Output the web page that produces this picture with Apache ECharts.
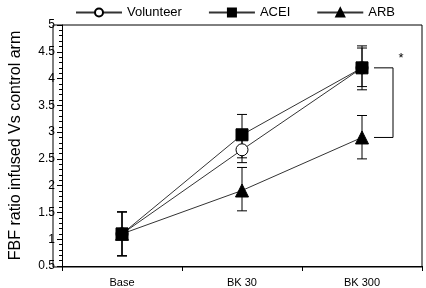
<!DOCTYPE html>
<html style="height: 100%">
<head>
<meta charset="utf-8">
<script src="https://cdn.jsdelivr.net/npm/echarts@6/dist/echarts.min.js"></script>
</head>
<body style="height: 100%; margin: 0; background: #fff">
<div id="container" style="width: 426px; height: 288px"></div>
<script type="text/javascript">
// data
const categories = ['Base', 'BK 30', 'BK 300'];
const volunteer = [1.1, 2.67, 4.2];
const volunteerLo = [0.69, 2.43, 3.85];
const volunteerHi = [1.51, 2.9, 4.57];
const acei = [1.1, 2.95, 4.2];
const aceiLo = [0.69, 2.52, 3.79];
const aceiHi = [1.51, 3.33, 4.61];
const arb = [1.1, 1.91, 2.9];
const arbLo = [0.69, 1.53, 2.5];
const arbHi = [1.51, 2.34, 3.31];
const yTicks = { min: 0.5, max: 5, interval: 0.5 };

let chart = echarts.init(document.getElementById('container'));
const font = 'Liberation Sans, Arial, sans-serif';

function errorSeries(name, mean, lo, hi) {
  return {
    name: name + ' err',
    type: 'custom',
    z: 1,
    silent: true,
    data: mean.map((m, i) => [i, lo[i], hi[i]]),
    renderItem: function (params, api) {
      let top = api.coord([api.value(0), api.value(2)]);
      let bot = api.coord([api.value(0), api.value(1)]);
      let w = 5;
      let st = { stroke: '#000', lineWidth: 1 };
      return {
        type: 'group',
        children: [
          { type: 'line', shape: { x1: top[0], y1: top[1], x2: bot[0], y2: bot[1] }, style: st },
          { type: 'line', shape: { x1: top[0] - w, y1: top[1], x2: top[0] + w, y2: top[1] }, style: st },
          { type: 'line', shape: { x1: bot[0] - w, y1: bot[1], x2: bot[0] + w, y2: bot[1] }, style: st }
        ]
      };
    }
  };
}

function lineSeries(name, data, symbol, size, fill) {
  return {
    name: name,
    type: 'line',
    z: 3,
    data: data,
    symbol: symbol,
    symbolSize: size,
    showAllSymbol: true,
    itemStyle: { color: fill, borderColor: '#000', borderWidth: 1 },
    lineStyle: { color: '#333', width: 1 }
  };
}

chart.setOption({
  animation: false,
  textStyle: { fontFamily: font },
  legend: {
    top: 1,
    left: 70,
    itemWidth: 46,
    itemHeight: 10,
    itemGap: 26,
    textStyle: { fontSize: 13, color: '#000', fontFamily: font },
    data: ['Volunteer', 'ACEI', 'ARB']
  },
  grid: { left: 53, right: 4, top: 25, bottom: 21 },
  xAxis: {
    type: 'category',
    data: categories,
    boundaryGap: true,
    axisLine: { lineStyle: { color: '#000' } },
    axisTick: { show: true, length: 5, lineStyle: { color: '#000' } },
    axisLabel: { color: '#000', fontSize: 11, margin: 11, fontFamily: font },
    splitLine: { show: false }
  },
  yAxis: {
    type: 'value',
    min: yTicks.min,
    max: yTicks.max,
    interval: yTicks.interval,
    name: 'FBF ratio infused Vs control arm',
    nameLocation: 'middle',
    nameRotate: 90,
    nameGap: 38,
    nameTextStyle: { fontSize: 16, color: '#000', fontFamily: font },
    axisLine: { show: true, lineStyle: { color: '#000' } },
    axisTick: { show: true, length: 5, lineStyle: { color: '#000' } },
    minorTick: { show: true, splitNumber: 5, length: 3, lineStyle: { color: '#000' } },
    axisLabel: { color: '#000', fontSize: 12, margin: 7, fontFamily: font },
    splitLine: { show: false }
  },
  graphic: [{
    type: 'rect',
    shape: { x: 53, y: 25, width: 369, height: 242 },
    style: { fill: 'none', stroke: '#000', lineWidth: 1 },
    silent: true
  }],
  series: [
    errorSeries('Volunteer', volunteer, volunteerLo, volunteerHi),
    errorSeries('ACEI', acei, aceiLo, aceiHi),
    errorSeries('ARB', arb, arbLo, arbHi),
    lineSeries('Volunteer', volunteer, 'circle', 12, '#fff'),
    lineSeries('ACEI', acei, 'rect', 12, '#000'),
    lineSeries('ARB', arb, 'triangle', 13, '#000'),
    {
      name: 'bracket',
      type: 'custom',
      silent: true,
      z: 2,
      data: [[2, acei[2], arb[2]]],
      renderItem: function (params, api) {
        let a = api.coord([api.value(0), api.value(1)]);
        let b = api.coord([api.value(0), api.value(2)]);
        let x0 = a[0] + 12, x1 = a[0] + 31;
        let st = { stroke: '#000', lineWidth: 1, fill: 'none' };
        return {
          type: 'group',
          children: [
            { type: 'polyline', shape: { points: [[x0, a[1]], [x1, a[1]], [x1, b[1]], [x0, b[1]]] }, style: st },
            { type: 'text', style: { text: '*', x: x1 + 8, y: a[1] - 16, fontSize: 13, fill: '#000', textAlign: 'center', fontFamily: font } }
          ]
        };
      }
    }
  ]
});
</script>
</body>
</html>
